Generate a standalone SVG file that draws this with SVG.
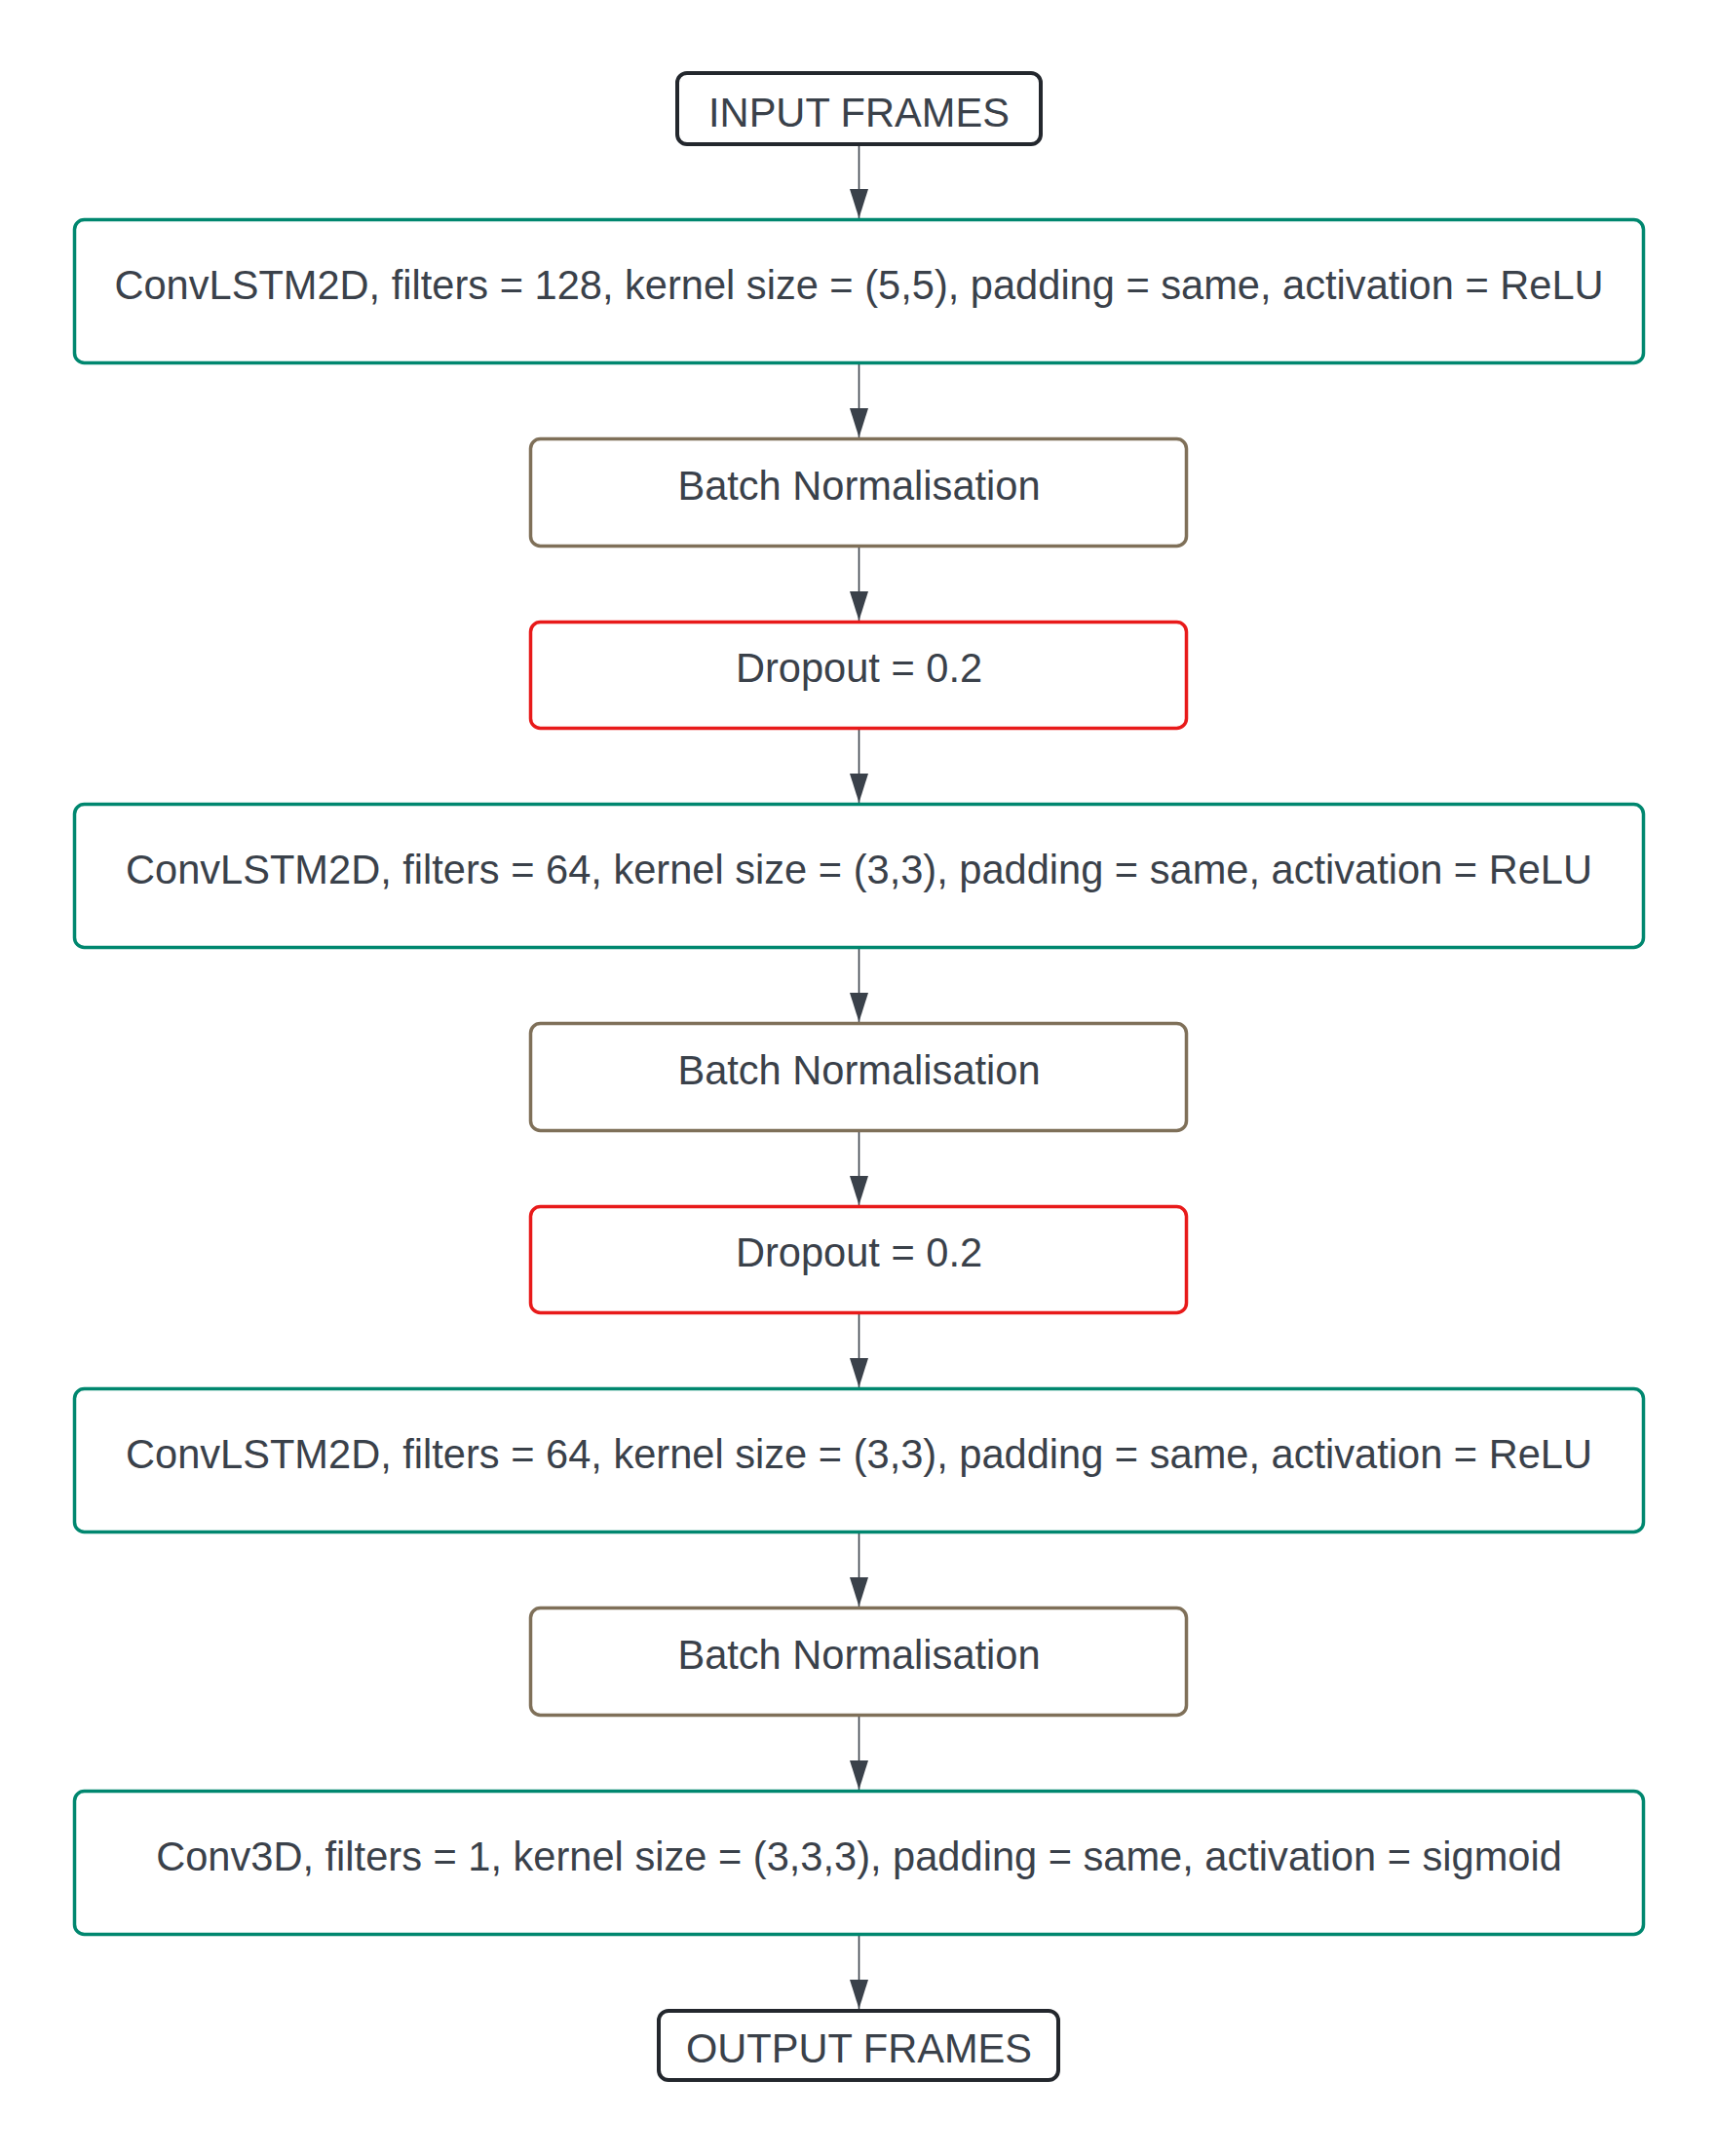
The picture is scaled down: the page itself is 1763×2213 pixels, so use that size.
<svg xmlns="http://www.w3.org/2000/svg" width="1763" height="2213" viewBox="0 0 1763 2213">
<style>
.t{font-family:"Liberation Sans",Arial,sans-serif;font-size:41.6px;fill:#3a414a;text-anchor:middle}
.term{fill:#fff;stroke:#23272d;stroke-width:4}
.conv{fill:#fff;stroke:#00876f;stroke-width:3.5}
.bn{fill:#fff;stroke:#7f7059;stroke-width:3.5}
.dr{fill:#fff;stroke:#e81a1a;stroke-width:3.5}
.c{stroke:#3a414a;stroke-width:1.6;fill:none;marker-end:url(#arr)}
</style>
<defs>
<marker id="arr" markerUnits="userSpaceOnUse" markerWidth="30" markerHeight="19" viewBox="0 0 30 19" refX="30" refY="9.5" orient="auto">
<path d="M0,0 L30,9.5 L0,19 Z" fill="#3a414a"/>
</marker>
</defs>
<rect width="1763" height="2213" fill="#fff"/>
<g id="connectors">
<line class="c" x1="881.5" y1="150" x2="881.5" y2="224"/>
<line class="c" x1="881.5" y1="374" x2="881.5" y2="449"/>
<line class="c" x1="881.5" y1="562" x2="881.5" y2="637"/>
<line class="c" x1="881.5" y1="749" x2="881.5" y2="824"/>
<line class="c" x1="881.5" y1="974" x2="881.5" y2="1049"/>
<line class="c" x1="881.5" y1="1162" x2="881.5" y2="1237"/>
<line class="c" x1="881.5" y1="1349" x2="881.5" y2="1424"/>
<line class="c" x1="881.5" y1="1574" x2="881.5" y2="1649"/>
<line class="c" x1="881.5" y1="1762" x2="881.5" y2="1837"/>
<line class="c" x1="881.5" y1="1987" x2="881.5" y2="2062"/>
</g>
<g id="input">
<rect class="term" x="695" y="75" width="373" height="73" rx="10"/>
<text class="t" x="881.5" y="130">INPUT FRAMES</text>
</g>
<g id="conv1">
<rect class="conv" x="76.5" y="225.5" width="1610" height="147" rx="10"/>
<text class="t" x="881.5" y="307">ConvLSTM2D, filters = 128, kernel size = (5,5), padding = same, activation = ReLU</text>
</g>
<g id="bn1">
<rect class="bn" x="544.5" y="450.5" width="673" height="110" rx="10"/>
<text class="t" x="881.5" y="513">Batch Normalisation</text>
</g>
<g id="dropout1">
<rect class="dr" x="544.5" y="638.5" width="673" height="109" rx="10"/>
<text class="t" x="881.5" y="700">Dropout = 0.2</text>
</g>
<g id="conv2">
<rect class="conv" x="76.5" y="825.5" width="1610" height="147" rx="10"/>
<text class="t" x="881.5" y="907">ConvLSTM2D, filters = 64, kernel size = (3,3), padding = same, activation = ReLU</text>
</g>
<g id="bn2">
<rect class="bn" x="544.5" y="1050.5" width="673" height="110" rx="10"/>
<text class="t" x="881.5" y="1113">Batch Normalisation</text>
</g>
<g id="dropout2">
<rect class="dr" x="544.5" y="1238.5" width="673" height="109" rx="10"/>
<text class="t" x="881.5" y="1300">Dropout = 0.2</text>
</g>
<g id="conv3">
<rect class="conv" x="76.5" y="1425.5" width="1610" height="147" rx="10"/>
<text class="t" x="881.5" y="1507">ConvLSTM2D, filters = 64, kernel size = (3,3), padding = same, activation = ReLU</text>
</g>
<g id="bn3">
<rect class="bn" x="544.5" y="1650.5" width="673" height="110" rx="10"/>
<text class="t" x="881.5" y="1713">Batch Normalisation</text>
</g>
<g id="conv3d">
<rect class="conv" x="76.5" y="1838.5" width="1610" height="147" rx="10"/>
<text class="t" x="881.5" y="1919.5">Conv3D, filters = 1, kernel size = (3,3,3), padding = same, activation = sigmoid</text>
</g>
<g id="output">
<rect class="term" x="676" y="2064" width="410" height="71" rx="10"/>
<text class="t" x="881.5" y="2117">OUTPUT FRAMES</text>
</g>
</svg>
